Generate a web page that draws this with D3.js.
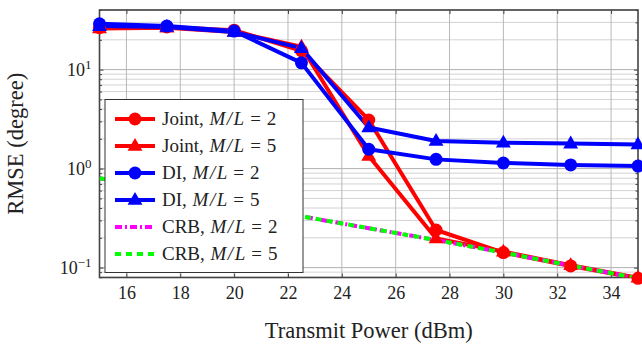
<!DOCTYPE html>
<html>
<head>
<meta charset="utf-8">
<script src="https://cdn.jsdelivr.net/npm/d3@7"></script>
<style>
  body { margin: 0; background: #fff; }
</style>
</head>
<body>
<svg id="chart" width="642" height="345"></svg>
<script>
// Transmit power (dBm)
const power = [15, 17.5, 20, 22.5, 25, 27.5, 30, 32.5, 35];

// RMSE (degree)
const joint2 = [26.5, 27, 25, 15.5, 3.1, 0.24, 0.142, 0.104, 0.078];
const joint5 = [26, 26.5, 24, 17, 1.34, 0.197, 0.145, 0.106, 0.079];
const di2 = [29, 27.5, 24.5, 11.7, 1.57, 1.24, 1.14, 1.09, 1.06];
const di5 = [27.5, 27, 24, 16.5, 2.6, 1.9, 1.83, 1.79, 1.75];
const crb2 = [0.8, 0.6, 0.45, 0.33, 0.25, 0.19, 0.142, 0.105, 0.078];
const crb5 = [0.8, 0.6, 0.45, 0.33, 0.25, 0.19, 0.142, 0.105, 0.078];

const xTicks = [16, 18, 20, 22, 24, 26, 28, 30, 32, 34];
const yTicks = [0.1, 1, 10];
const yTickExp = ['\u22121', '0', '1'];

const series = [
  { name: 'Joint', ml: 2, values: joint2, color: '#ff0000', marker: 'circle', dash: null },
  { name: 'Joint', ml: 5, values: joint5, color: '#ff0000', marker: 'triangle', dash: null },
  { name: 'DI', ml: 2, values: di2, color: '#0000ff', marker: 'circle', dash: null },
  { name: 'DI', ml: 5, values: di5, color: '#0000ff', marker: 'triangle', dash: null },
  { name: 'CRB', ml: 2, values: crb2, color: '#ff00ff', marker: null, dash: '7,3,2,3' },
  { name: 'CRB', ml: 5, values: crb5, color: '#00ff00', marker: null, dash: '6,5' }
];

const FONT = 'Liberation Serif';
const svg = d3.select('#chart');
const plot = { left: 99.5, right: 638, top: 10, bottom: 277.5 };

const x = d3.scaleLinear().domain([15, 35]).range([plot.left, plot.right]);
const y = d3.scaleLog().domain([0.0795, 40]).range([plot.bottom, plot.top]);

// Minor log values for grid / ticks
let minor = [];
[0.01, 0.1, 1, 10].forEach(d => {
  for (let k = 2; k <= 9; k++) {
    let v = d * k;
    if (v >= y.domain()[0] && v <= y.domain()[1]) minor.push(v);
  }
});

// Grid
let grid = svg.append('g').attr('class', 'grid');
grid.selectAll('line.minor-y').data(minor).enter().append('line')
  .attr('x1', plot.left).attr('x2', plot.right)
  .attr('y1', d => y(d)).attr('y2', d => y(d))
  .attr('stroke', '#d3d3d3').attr('stroke-width', 1);
grid.selectAll('line.major-y').data(yTicks).enter().append('line')
  .attr('x1', plot.left).attr('x2', plot.right)
  .attr('y1', d => y(d)).attr('y2', d => y(d))
  .attr('stroke', '#b0b0b0').attr('stroke-width', 1);
grid.selectAll('line.major-x').data(xTicks).enter().append('line')
  .attr('x1', d => x(d)).attr('x2', d => x(d))
  .attr('y1', plot.top).attr('y2', plot.bottom)
  .attr('stroke', '#b8b8b8').attr('stroke-width', 1);

// Axes frame and ticks (pgfplots style: ticks inside, mirrored)
let axisG = svg.append('g').attr('class', 'axes');
let xb = d3.axisBottom(x).tickValues(xTicks).tickSizeInner(-4).tickSizeOuter(0).tickPadding(9);
let xt = d3.axisTop(x).tickValues(xTicks).tickSizeInner(-4).tickSizeOuter(0).tickFormat('');
let yl = d3.axisLeft(y).tickValues(yTicks).tickSizeInner(-4).tickSizeOuter(0).tickFormat('');
let yr = d3.axisRight(y).tickValues(yTicks).tickSizeInner(-4).tickSizeOuter(0).tickFormat('');
let ylm = d3.axisLeft(y).tickValues(minor).tickSizeInner(-2.5).tickSizeOuter(0).tickFormat('');
let yrm = d3.axisRight(y).tickValues(minor).tickSizeInner(-2.5).tickSizeOuter(0).tickFormat('');

function styleAxis(g) {
  g.attr('font-family', null).attr('font-size', null);
  g.select('.domain').remove();
  g.selectAll('line').attr('stroke', '#444').attr('stroke-width', 1);
}

axisG.append('g').attr('transform', `translate(0,${plot.bottom})`).call(xb).call(styleAxis)
  .selectAll('text').style('font-family', FONT).style('font-size', '18px').attr('fill', '#222');
axisG.append('g').attr('transform', `translate(0,${plot.top})`).call(xt).call(styleAxis);
axisG.append('g').attr('transform', `translate(${plot.left},0)`).call(yl).call(styleAxis);
axisG.append('g').attr('transform', `translate(${plot.right},0)`).call(yr).call(styleAxis);
axisG.append('g').attr('transform', `translate(${plot.left},0)`).call(ylm).call(styleAxis);
axisG.append('g').attr('transform', `translate(${plot.right},0)`).call(yrm).call(styleAxis);

// y tick labels with superscripts
let ylab = svg.append('g').selectAll('text').data(yTicks).enter().append('text')
  .attr('x', plot.left - 8).attr('y', d => y(d) + 6)
  .attr('text-anchor', 'end').attr('fill', '#222')
  .style('font-family', FONT).style('font-size', '18px');
ylab.append('tspan').text('10');
ylab.append('tspan').attr('dy', -7).style('font-size', '13px').text((d, i) => yTickExp[i]);

// Frame
svg.append('rect')
  .attr('x', plot.left).attr('y', plot.top)
  .attr('width', plot.right - plot.left).attr('height', plot.bottom - plot.top)
  .attr('fill', 'none').attr('stroke', '#444').attr('stroke-width', 1.6);

// Axis labels
svg.append('text')
  .attr('x', (plot.left + plot.right) / 2).attr('y', 338)
  .attr('text-anchor', 'middle').attr('fill', '#222')
  .style('font-family', FONT).style('font-size', '22.5px')
  .text('Transmit Power (dBm)');
svg.append('text')
  .attr('transform', `translate(23,${(plot.top + plot.bottom) / 2}) rotate(-90)`)
  .attr('text-anchor', 'middle').attr('fill', '#222')
  .style('font-family', FONT).style('font-size', '22.5px')
  .text('RMSE (degree)');

// Lines
let line = d3.line().x((d, i) => x(power[i])).y(d => y(d));
svg.append('clipPath').attr('id', 'plot-clip').append('rect')
  .attr('x', plot.left).attr('y', plot.top)
  .attr('width', plot.right - plot.left).attr('height', plot.bottom - plot.top);

let linesG = svg.append('g').attr('clip-path', 'url(#plot-clip)');
series.forEach(s => {
  linesG.append('path').datum(s.values)
    .attr('d', line)
    .attr('fill', 'none')
    .attr('stroke', s.color)
    .attr('stroke-width', 4)
    .attr('stroke-linejoin', 'round')
    .attr('stroke-dasharray', s.dash);
});

function drawMarker(g, type, cx, cy, color) {
  if (type === 'circle') {
    g.append('circle').attr('cx', cx).attr('cy', cy).attr('r', 6.5).attr('fill', color);
  } else if (type === 'triangle') {
    let r = 8;
    let pts = [[cx, cy - r], [cx - r * 0.93, cy + r * 0.6], [cx + r * 0.93, cy + r * 0.6]];
    g.append('path').attr('d', 'M' + pts.join('L') + 'Z').attr('fill', color);
  }
}

let markG = svg.append('g');
series.forEach(s => {
  if (!s.marker) return;
  s.values.forEach((v, i) => drawMarker(markG, s.marker, x(power[i]), y(v), s.color));
});

// Legend
let leg = { x: 105, y: 99.5, w: 198, h: 173 };
let legG = svg.append('g');
legG.append('rect')
  .attr('x', leg.x).attr('y', leg.y).attr('width', leg.w).attr('height', leg.h)
  .attr('fill', '#fff').attr('stroke', '#333').attr('stroke-width', 1);
series.forEach((s, i) => {
  let cy = leg.y + 19.5 + i * 27;
  legG.append('line')
    .attr('x1', leg.x + 10).attr('x2', leg.x + 50)
    .attr('y1', cy).attr('y2', cy)
    .attr('stroke', s.color).attr('stroke-width', 4)
    .attr('stroke-dasharray', s.dash);
  if (s.marker) drawMarker(legG, s.marker, leg.x + 30, cy, s.color);
  let t = legG.append('text')
    .attr('x', leg.x + 57).attr('y', cy + 6)
    .attr('fill', '#222')
    .style('font-family', FONT).style('font-size', '19px');
  t.append('tspan').text(s.name + ', ');
  t.append('tspan').attr('dx', 1).style('font-style', 'italic').text('M');
  t.append('tspan').attr('dx', 1.5).style('font-style', 'italic').text('/');
  t.append('tspan').attr('dx', 1.5).style('font-style', 'italic').text('L');
  t.append('tspan').attr('dx', 6).text('=');
  t.append('tspan').attr('dx', 6).text(s.ml);
});
</script>
</body>
</html>
